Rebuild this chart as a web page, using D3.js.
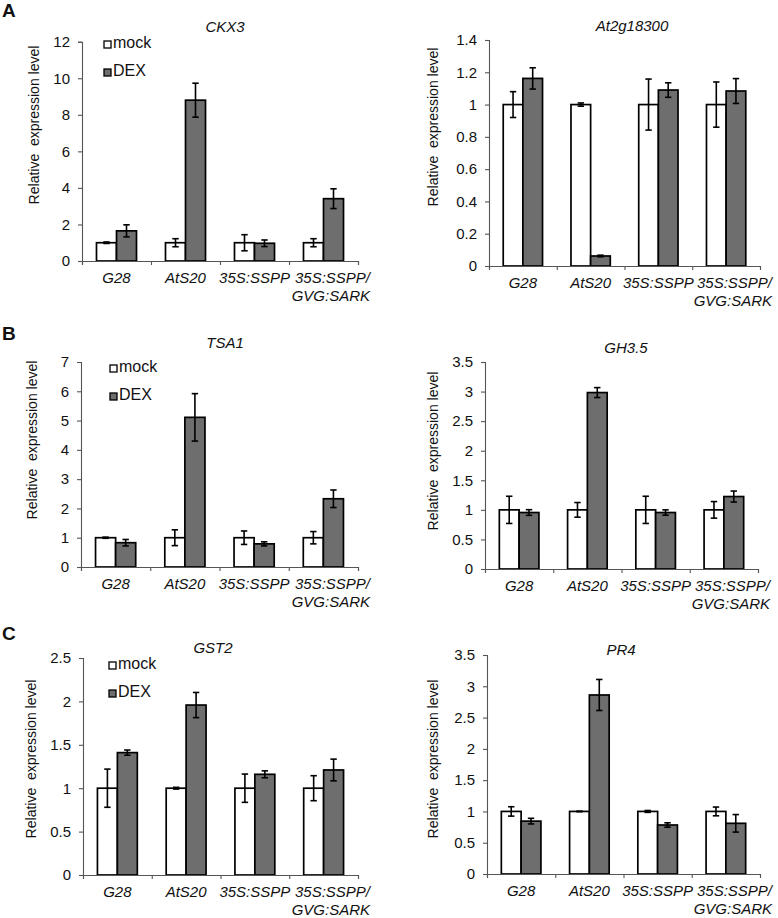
<!DOCTYPE html>
<html>
<head>
<meta charset="utf-8">
<script src="https://cdn.jsdelivr.net/npm/d3@7"></script>
<style>
  body { margin: 0; background: #fff; }
  svg { display: block; }
  text { font-family: Arial, "Liberation Sans", sans-serif; fill: #111; }
</style>
</head>
<body>
<script>
    // data
    var categories = ['G28', 'AtS20', '35S:SSPP', '35S:SSPP/GVG:SARK'];
    var series = ['mock', 'DEX'];

    var ckx3Mock = [1.0, 1.0, 1.0, 1.0];
    var ckx3MockErr = [0.04, 0.22, 0.44, 0.22];
    var ckx3Dex = [1.65, 8.8, 0.97, 3.41];
    var ckx3DexErr = [0.33, 0.93, 0.18, 0.54];
    var ckx3Ticks = [0, 2, 4, 6, 8, 10, 12];

    var at2gMock = [1.0, 1.0, 1.0, 1.0];
    var at2gMockErr = [0.08, 0.01, 0.158, 0.14];
    var at2gDex = [1.162, 0.062, 1.09, 1.084];
    var at2gDexErr = [0.066, 0.005, 0.045, 0.077];
    var at2gTicks = [0, 0.2, 0.4, 0.6, 0.8, 1, 1.2, 1.4];

    var tsa1Mock = [1.0, 1.0, 1.0, 1.0];
    var tsa1MockErr = [0.02, 0.27, 0.23, 0.21];
    var tsa1Dex = [0.83, 5.11, 0.79, 2.33];
    var tsa1DexErr = [0.11, 0.81, 0.07, 0.30];
    var tsa1Ticks = [0, 1, 2, 3, 4, 5, 6, 7];

    var gh35Mock = [1.0, 1.0, 1.0, 1.0];
    var gh35MockErr = [0.23, 0.124, 0.23, 0.14];
    var gh35Dex = [0.955, 2.983, 0.955, 1.225];
    var gh35DexErr = [0.048, 0.084, 0.045, 0.093];
    var gh35Ticks = [0, 0.5, 1, 1.5, 2, 2.5, 3, 3.5];

    var gst2Mock = [1.0, 1.0, 1.0, 1.0];
    var gst2MockErr = [0.22, 0.01, 0.163, 0.144];
    var gst2Dex = [1.41, 1.958, 1.16, 1.21];
    var gst2DexErr = [0.03, 0.145, 0.04, 0.125];
    var gst2Ticks = [0, 0.5, 1, 1.5, 2, 2.5];

    var pr4Mock = [1.0, 1.0, 1.0, 1.0];
    var pr4MockErr = [0.075, 0.005, 0.015, 0.07];
    var pr4Dex = [0.845, 2.861, 0.783, 0.81];
    var pr4DexErr = [0.045, 0.248, 0.035, 0.14];
    var pr4Ticks = [0, 0.5, 1, 1.5, 2, 2.5, 3, 3.5];

    var width = 778;
    var height = 918;
    var barFill = {mock: '#ffffff', DEX: '#6e6e6e'};

    var svg = d3.select('body')
        .append('svg')
        .attr('width', width)
        .attr('height', height);

    // panel letters
    [['A', 17], ['B', 340], ['C', 640]].forEach(function (p) {
        svg.append('text')
            .attr('x', 2)
            .attr('y', p[1])
            .attr('font-size', 19)
            .attr('font-weight', 'bold')
            .text(p[0]);
    });

    var panels = [
        {title: 'CKX3', mock: ckx3Mock, mockErr: ckx3MockErr, dex: ckx3Dex, dexErr: ckx3DexErr, ticks: ckx3Ticks,
         x0: 82, x1: 358, top: 41.7, bottom: 261, tx: 225, ty: 32, lx: 34, ly: 125, legend: [104, 41]},
        {title: 'At2g18300', mock: at2gMock, mockErr: at2gMockErr, dex: at2gDex, dexErr: at2gDexErr, ticks: at2gTicks,
         x0: 489, x1: 760, top: 40, bottom: 266, tx: 632, ty: 31, lx: 433, ly: 127},
        {title: 'TSA1', mock: tsa1Mock, mockErr: tsa1MockErr, dex: tsa1Dex, dexErr: tsa1DexErr, ticks: tsa1Ticks,
         x0: 81, x1: 358, top: 362, bottom: 567, tx: 225, ty: 348, lx: 32, ly: 440, legend: [110, 365]},
        {title: 'GH3.5', mock: gh35Mock, mockErr: gh35MockErr, dex: gh35Dex, dexErr: gh35DexErr, ticks: gh35Ticks,
         x0: 485, x1: 758, top: 362, bottom: 569, tx: 626, ty: 353, lx: 433, ly: 451},
        {title: 'GST2', mock: gst2Mock, mockErr: gst2MockErr, dex: gst2Dex, dexErr: gst2DexErr, ticks: gst2Ticks,
         x0: 83, x1: 358, top: 658, bottom: 875, tx: 213, ty: 653, lx: 31, ly: 759, legend: [109, 662]},
        {title: 'PR4', mock: pr4Mock, mockErr: pr4MockErr, dex: pr4Dex, dexErr: pr4DexErr, ticks: pr4Ticks,
         x0: 487, x1: 760, top: 655, bottom: 874, tx: 621, ty: 655, lx: 433, ly: 759}
    ];

    var drawPanel = function (p) {
        var g = svg.append('g');

        var xScale = d3.scaleBand()
            .domain(categories)
            .range([p.x0, p.x1])
            .paddingInner(0.42)
            .paddingOuter(0.21);

        var subScale = d3.scaleBand()
            .domain(series)
            .range([0, xScale.bandwidth()]);

        var yScale = d3.scaleLinear()
            .domain([0, d3.max(p.ticks)])
            .range([p.bottom, p.top]);

        // category boundaries for x-axis ticks
        var edgeScale = d3.scaleLinear()
            .domain([0, categories.length])
            .range([p.x0, p.x1]);

        var rows = [];
        categories.forEach(function (c, i) {
            rows.push({cat: c, s: 'mock', v: p.mock[i], e: p.mockErr[i]});
            rows.push({cat: c, s: 'DEX', v: p.dex[i], e: p.dexErr[i]});
        });

        g.selectAll('rect.bar')
            .data(rows)
            .enter()
            .append('rect')
            .attr('class', 'bar')
            .attr('x', function (d) { return xScale(d.cat) + subScale(d.s); })
            .attr('width', subScale.bandwidth())
            .attr('y', function (d) { return yScale(d.v); })
            .attr('height', function (d) { return yScale(0) - yScale(d.v); })
            .attr('fill', function (d) { return barFill[d.s]; })
            .attr('stroke', '#000')
            .attr('stroke-width', 1.7);

        // error bars
        var err = g.selectAll('g.err')
            .data(rows)
            .enter()
            .append('g')
            .attr('class', 'err')
            .attr('stroke', '#000')
            .attr('stroke-width', 1.6);
        var cx = function (d) { return xScale(d.cat) + subScale(d.s) + subScale.bandwidth() / 2; };
        err.append('line')
            .attr('x1', cx).attr('x2', cx)
            .attr('y1', function (d) { return yScale(d.v + d.e); })
            .attr('y2', function (d) { return yScale(d.v - d.e); });
        [1, -1].forEach(function (sign) {
            err.append('line')
                .attr('x1', function (d) { return cx(d) - 3.2; })
                .attr('x2', function (d) { return cx(d) + 3.2; })
                .attr('y1', function (d) { return yScale(d.v + sign * d.e); })
                .attr('y2', function (d) { return yScale(d.v + sign * d.e); });
        });

        // y axis
        var yAxis = d3.axisLeft(yScale)
            .tickValues(p.ticks)
            .tickFormat(function (d) { return String(+d.toFixed(2)); })
            .tickSizeOuter(0)
            .tickSize(4)
            .tickPadding(8);
        var ya = g.append('g')
            .attr('transform', 'translate(' + p.x0 + ',0)')
            .call(yAxis);
        ya.selectAll('text').attr('font-size', 15).attr('fill', '#111');

        // x axis
        var xAxis = d3.axisBottom(edgeScale)
            .tickValues(d3.range(categories.length + 1))
            .tickFormat('')
            .tickSizeOuter(0)
            .tickSize(4);
        g.append('g')
            .attr('transform', 'translate(0,' + p.bottom + ')')
            .call(xAxis);

        g.selectAll('.domain, .tick line')
            .attr('stroke', '#555')
            .attr('stroke-width', 1.1);

        // category labels
        categories.forEach(function (c) {
            var parts = c.split('/');
            if (parts.length > 1) {
                g.append('text')
                    .attr('x', p.x1 + 12)
                    .attr('y', p.bottom + 22)
                    .attr('text-anchor', 'end')
                    .attr('font-size', 15)
                    .attr('font-style', 'italic')
                    .text(parts[0] + '/');
                g.append('text')
                    .attr('x', p.x1 + 12)
                    .attr('y', p.bottom + 40)
                    .attr('text-anchor', 'end')
                    .attr('font-size', 15)
                    .attr('font-style', 'italic')
                    .text(parts[1]);
            } else {
                g.append('text')
                    .attr('x', xScale(c) + xScale.bandwidth() / 2)
                    .attr('y', p.bottom + 22)
                    .attr('text-anchor', 'middle')
                    .attr('font-size', 15)
                    .attr('font-style', 'italic')
                    .text(c);
            }
        });

        // title
        g.append('text')
            .attr('x', p.tx)
            .attr('y', p.ty)
            .attr('text-anchor', 'middle')
            .attr('font-size', 15)
            .attr('font-style', 'italic')
            .text(p.title);

        // y label
        g.append('text')
            .attr('transform', 'translate(' + (p.lx + 5) + ',' + p.ly + ') rotate(-90)')
            .attr('text-anchor', 'middle')
            .attr('font-size', 14)
            .style('white-space', 'pre')
            .text('Relative  expression level');

        // legend
        if (p.legend) {
            series.forEach(function (s, i) {
                var ly = p.legend[1] + i * 28;
                g.append('rect')
                    .attr('x', p.legend[0])
                    .attr('y', ly)
                    .attr('width', 7)
                    .attr('height', 7)
                    .attr('fill', barFill[s])
                    .attr('stroke', '#000')
                    .attr('stroke-width', 1.3);
                g.append('text')
                    .attr('x', p.legend[0] + 9)
                    .attr('y', ly + 7)
                    .attr('font-size', 16)
                    .text(s);
            });
        }
    };

    panels.forEach(drawPanel);
</script>
</body>
</html>
